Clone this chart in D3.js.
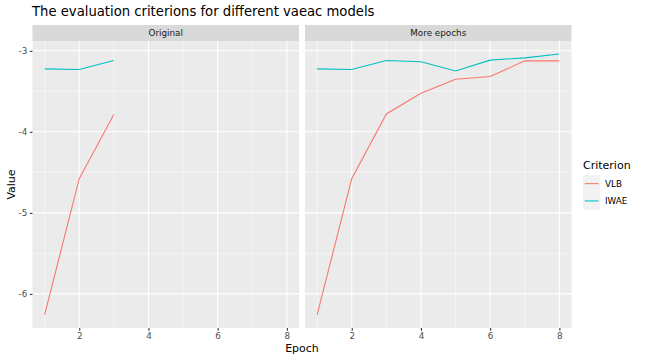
<!DOCTYPE html>
<html>
<head>
<meta charset="utf-8">
<script src="https://cdn.jsdelivr.net/npm/d3@7"></script>
<style>
  body { margin: 0; background: #fff; }
  text { font-family: "DejaVu Sans", sans-serif; }
</style>
</head>
<body>
<div id="chart"></div>
<script>
var panels = ["Original", "More epochs"];
var criteria = ["VLB", "IWAE"];
var colors = ["#F8766D", "#00BFC4"];

// epochs per panel
var epochsOriginal = [1, 2, 3];
var epochsMore = [1, 2, 3, 4, 5, 6, 7, 8];

var vlbOriginal = [-6.26, -4.578, -3.785];
var iwaeOriginal = [-3.223, -3.23, -3.12];
var vlbMore = [-6.26, -4.578, -3.78, -3.524, -3.35, -3.318, -3.124, -3.124];
var iwaeMore = [-3.223, -3.23, -3.12, -3.136, -3.248, -3.115, -3.087, -3.04];

var xTicks = [2, 4, 6, 8];
var yTicks = [-3, -4, -5, -6];

var width = 648, height = 360;
var panelTop = 41, panelBottom = 328;
var panelLefts = [32.5, 305], panelW = 266.5;

var series = [
    { panel: 0, epochs: epochsOriginal, values: [vlbOriginal, iwaeOriginal] },
    { panel: 1, epochs: epochsMore, values: [vlbMore, iwaeMore] }
];

var svg = d3.select("#chart")
    .append("svg")
    .attr("width", width)
    .attr("height", height);

var allVals = vlbMore.concat(iwaeMore, vlbOriginal, iwaeOriginal);
var yMin = d3.min(allVals), yMax = d3.max(allVals);
var yPad = (yMax - yMin) * 0.05;
var y = d3.scaleLinear()
    .domain([yMin - yPad, yMax + yPad])
    .range([panelBottom, panelTop]);

svg.append("text")
    .attr("x", 32)
    .attr("y", 16)
    .attr("font-size", "13.2px")
    .attr("fill", "#000")
    .text("The evaluation criterions for different vaeac models");

series.forEach(function (s) {
    var left = panelLefts[s.panel];
    var x = d3.scaleLinear()
        .domain([1 - 0.35, 8 + 0.35])
        .range([left, left + panelW]);

    var g = svg.append("g");

    // strip
    g.append("rect")
        .attr("x", left).attr("y", 25)
        .attr("width", panelW).attr("height", panelTop - 25)
        .attr("fill", "#D9D9D9");
    g.append("text")
        .attr("x", left + panelW / 2).attr("y", 36)
        .attr("text-anchor", "middle")
        .attr("font-size", "8.8px")
        .attr("fill", "#1A1A1A")
        .text(panels[s.panel]);

    // panel background
    g.append("rect")
        .attr("x", left).attr("y", panelTop)
        .attr("width", panelW).attr("height", panelBottom - panelTop)
        .attr("fill", "#EBEBEB");

    // minor grid
    var yMinor = [-6.5, -5.5, -4.5, -3.5].filter(function (v) { return v > y.domain()[0] && v < y.domain()[1]; });
    g.selectAll(".ymin").data(yMinor).enter().append("line")
        .attr("x1", left).attr("x2", left + panelW)
        .attr("y1", function (d) { return y(d); }).attr("y2", function (d) { return y(d); })
        .attr("stroke", "#fff").attr("stroke-width", 0.53);
    g.selectAll(".xmin").data([1, 3, 5, 7]).enter().append("line")
        .attr("y1", panelTop).attr("y2", panelBottom)
        .attr("x1", function (d) { return x(d); }).attr("x2", function (d) { return x(d); })
        .attr("stroke", "#fff").attr("stroke-width", 0.53);

    // major grid
    g.selectAll(".ymaj").data(yTicks).enter().append("line")
        .attr("x1", left).attr("x2", left + panelW)
        .attr("y1", function (d) { return y(d); }).attr("y2", function (d) { return y(d); })
        .attr("stroke", "#fff").attr("stroke-width", 1.07);
    g.selectAll(".xmaj").data(xTicks).enter().append("line")
        .attr("y1", panelTop).attr("y2", panelBottom)
        .attr("x1", function (d) { return x(d); }).attr("x2", function (d) { return x(d); })
        .attr("stroke", "#fff").attr("stroke-width", 1.07);

    // x axis
    var xAxis = g.append("g")
        .attr("transform", "translate(0," + panelBottom + ")")
        .call(d3.axisBottom(x).tickValues(xTicks).tickSize(2.7).tickPadding(2.5));
    xAxis.select(".domain").remove();
    xAxis.selectAll("line").attr("stroke", "#333").attr("stroke-width", 1.07);
    xAxis.selectAll("text").attr("fill", "#4D4D4D").attr("font-size", "8.8px")
        .style("font-family", "DejaVu Sans, sans-serif");

    // y axis only on first panel
    if (s.panel === 0) {
        var yAxis = g.append("g")
            .attr("transform", "translate(" + left + ",0)")
            .call(d3.axisLeft(y).tickValues(yTicks).tickSize(2.7).tickPadding(2.5)
                .tickFormat(function (d) { return String(d); }));
        yAxis.select(".domain").remove();
        yAxis.selectAll("line").attr("stroke", "#333").attr("stroke-width", 1.07);
        yAxis.selectAll("text").attr("fill", "#4D4D4D").attr("font-size", "8.8px")
            .style("font-family", "DejaVu Sans, sans-serif");
    }

    // lines
    var line = d3.line()
        .x(function (d) { return x(d[0]); })
        .y(function (d) { return y(d[1]); });
    s.values.forEach(function (vals, i) {
        var pts = s.epochs.map(function (e, j) { return [e, vals[j]]; });
        g.append("path")
            .datum(pts)
            .attr("d", line)
            .attr("fill", "none")
            .attr("stroke", colors[i])
            .attr("stroke-width", 1.07);
    });
});

// axis titles
svg.append("text")
    .attr("x", (panelLefts[0] + panelLefts[1] + panelW) / 2)
    .attr("y", 352)
    .attr("text-anchor", "middle")
    .attr("font-size", "11px")
    .attr("fill", "#000")
    .text("Epoch");
svg.append("text")
    .attr("transform", "translate(15," + ((panelTop + panelBottom) / 2) + ") rotate(-90)")
    .attr("text-anchor", "middle")
    .attr("font-size", "11px")
    .attr("fill", "#000")
    .text("Value");

// legend
var legend = svg.append("g").attr("transform", "translate(583,0)");
legend.append("text")
    .attr("x", 0).attr("y", 169)
    .attr("font-size", "11px")
    .attr("fill", "#000")
    .text("Criterion");
criteria.forEach(function (c, i) {
    var ky = 175 + i * 17.3;
    legend.append("rect")
        .attr("x", 0).attr("y", ky)
        .attr("width", 17.3).attr("height", 17.3)
        .attr("fill", "#F2F2F2");
    legend.append("line")
        .attr("x1", 1.7).attr("x2", 15.6)
        .attr("y1", ky + 8.65).attr("y2", ky + 8.65)
        .attr("stroke", colors[i]).attr("stroke-width", 1.07);
    legend.append("text")
        .attr("x", 22).attr("y", ky + 11.8)
        .attr("font-size", "8.8px")
        .attr("fill", "#000")
        .text(c);
});
</script>
</body>
</html>
